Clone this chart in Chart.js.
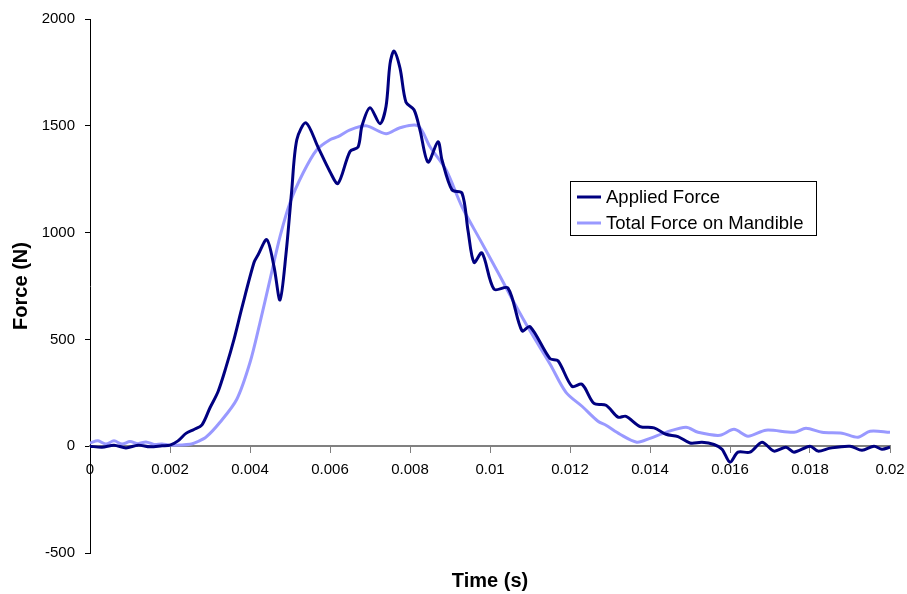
<!DOCTYPE html>
<html>
<head>
<meta charset="utf-8">
<script src="https://cdn.jsdelivr.net/npm/chart.js@4/dist/chart.umd.min.js"></script>
<style>
  body { margin: 0; background: #fff; }
</style>
</head>
<body>
<canvas id="forca" width="907" height="594"></canvas>
<script>
// tempos em segundos, forcas em N
var appliedTime = [0, 0.0003, 0.0006, 0.0009, 0.0012, 0.0015, 0.0018, 0.002, 0.0022, 0.0024, 0.0026, 0.0028,
  0.003, 0.0032, 0.0034, 0.0036, 0.0038, 0.0041, 0.0042, 0.00442, 0.0046, 0.00475, 0.0049,
  0.00504, 0.00517, 0.0054, 0.0057, 0.006, 0.0062, 0.0065, 0.0067, 0.0068, 0.007, 0.00725, 0.0074,
  0.0075, 0.0076, 0.00775, 0.0079, 0.0081, 0.00825, 0.00845, 0.0087, 0.0088, 0.00905, 0.0093, 0.00945,
  0.0096, 0.0098, 0.0101, 0.01045, 0.0108, 0.011, 0.0115, 0.0117, 0.01205, 0.0123, 0.0126, 0.0129,
  0.0132, 0.0134, 0.01375, 0.0141, 0.0144, 0.0147, 0.015, 0.0153, 0.0156, 0.0158, 0.016, 0.0162,
  0.0165, 0.0168, 0.0171, 0.0174, 0.0176, 0.018, 0.0182, 0.0185, 0.019, 0.0193, 0.0196, 0.0198, 0.02];
var appliedForce = [0, -5, 5, -8, 5, -3, 2, 5, 25, 60, 78, 100,
  180, 255, 370, 500, 650, 860, 895, 967, 841, 685, 900,
  1190, 1435, 1514, 1400, 1285, 1230, 1380, 1400, 1500, 1585, 1510, 1590,
  1790, 1850, 1770, 1610, 1575, 1480, 1330, 1425, 1340, 1200, 1185, 1010,
  860, 905, 735, 740, 540, 560, 410, 400, 280, 290, 200, 192,
  136, 140, 92, 86, 56, 45, 15, 18, 8, -14, -75, -28,
  -28, 19, -23, -5, -28, 0, -23, -9, 0, -19, 0, -14, -5];

var totalTime = [0, 0.0002, 0.0004, 0.0006, 0.0008, 0.001, 0.0012, 0.0014, 0.0016, 0.0018, 0.002, 0.0025,
  0.0027, 0.0029, 0.00325, 0.00367, 0.004, 0.00425, 0.0045, 0.00475, 0.005, 0.00533, 0.00567,
  0.006, 0.0062, 0.0065, 0.0069, 0.0074, 0.00775, 0.0082, 0.0085, 0.0089, 0.0093, 0.00975, 0.0102,
  0.0106, 0.011, 0.0115, 0.0119, 0.0123, 0.0127, 0.0129, 0.01325, 0.01367, 0.014, 0.0144, 0.0149,
  0.0152, 0.01575, 0.0161, 0.01645, 0.0169, 0.0176, 0.0179, 0.0183, 0.0188, 0.0192, 0.0195, 0.02];
var totalForce = [15, 25, 10, 25, 10, 22, 12, 20, 8, 10, 5, 9,
  22, 42, 112, 220, 392, 579, 780, 981, 1140, 1280, 1388,
  1435, 1449, 1481, 1500, 1463, 1491, 1500, 1402, 1294, 1121, 967, 813,
  673, 540, 385, 252, 187, 117, 98, 56, 19, 37, 65, 89,
  65, 51, 79, 47, 75, 65, 84, 65, 61, 42, 70, 65];

var xTickValues = [0, 0.002, 0.004, 0.006, 0.008, 0.01, 0.012, 0.014, 0.016, 0.018, 0.02];
var xTickLabels = ['0', '0.002', '0.004', '0.006', '0.008', '0.01', '0.012', '0.014', '0.016', '0.018', '0.02'];
var yTickValues = [-500, 0, 500, 1000, 1500, 2000];
var yTickLabels = ['-500', '0', '500', '1000', '1500', '2000'];

function pontos(tempo, forca) {
  var arr = [];
  for (var i = 0; i < tempo.length; i++) {
    arr.push({ x: tempo[i], y: forca[i] });
  }
  return arr;
}

// legenda desenhada na caixa, como no Excel
var legendaBox = {
  id: 'legendaBox',
  afterDraw: function (chart) {
    var ctx = chart.ctx;
    var x = 570, y = 181, w = 246, h = 54;
    ctx.save();
    ctx.fillStyle = '#fff';
    ctx.fillRect(x, y, w, h);
    ctx.strokeStyle = '#000';
    ctx.lineWidth = 1;
    ctx.strokeRect(x + 0.5, y + 0.5, w, h);
    ctx.font = '18.5px "Liberation Sans", Arial, sans-serif';
    ctx.textBaseline = 'middle';
    chart.data.datasets.forEach(function (ds, i) {
      var ly = y + 16 + i * 26;
      ctx.strokeStyle = ds.borderColor;
      ctx.lineWidth = 3;
      ctx.beginPath();
      ctx.moveTo(x + 7, ly);
      ctx.lineTo(x + 31, ly);
      ctx.stroke();
      ctx.fillStyle = '#000';
      ctx.fillText(ds.label, x + 36, ly + 1);
    });
    ctx.restore();
  }
};

new Chart(document.getElementById('forca'), {
  type: 'scatter',
  data: {
    datasets: [{
      label: 'Applied Force',
      data: pontos(appliedTime, appliedForce),
      borderColor: '#000080',
      borderWidth: 3,
      showLine: true,
      pointRadius: 0,
      tension: 0.3,
      fill: false
    }, {
      label: 'Total Force on Mandible',
      data: pontos(totalTime, totalForce),
      borderColor: '#9999FF',
      borderWidth: 3,
      showLine: true,
      pointRadius: 0,
      tension: 0.3,
      fill: false
    }]
  },
  options: {
    responsive: false,
    animation: false,
    layout: { padding: { top: 19, right: 17, left: 0, bottom: 0 } },
    plugins: {
      legend: { display: false },
      tooltip: { enabled: false },
      title: {
        display: true,
        fullSize: false,
        position: 'bottom',
        text: 'Time (s)',
        color: '#000',
        font: { family: '"Liberation Sans", Arial, sans-serif', size: 20, weight: 'bold' },
        padding: { top: 16, bottom: 1 }
      }
    },
    scales: {
      x: {
        type: 'linear',
        position: { y: 0 },
        min: 0,
        max: 0.02,
        afterBuildTicks: function (s) { s.ticks = xTickValues.map(function (v) { return { value: v }; }); },
        afterFit: function (s) { s.height = 0; s.paddingLeft = 0; s.paddingRight = 0; },
        grid: { drawOnChartArea: false, drawTicks: true, tickLength: 6, color: '#808080' },
        border: { display: true, color: '#808080', width: 2 },
        ticks: {
          color: '#000',
          padding: 9,
          maxRotation: 0,
          autoSkip: false,
          font: { family: '"Liberation Sans", Arial, sans-serif', size: 15 },
          callback: function (v, i) { return xTickLabels[i]; }
        }
      },
      y: {
        min: -500,
        max: 2000,
        afterBuildTicks: function (s) { s.ticks = yTickValues.map(function (v) { return { value: v }; }); },
        afterFit: function (s) { s.width = 90; s.paddingTop = 0; s.paddingBottom = 0; },
        grid: { drawOnChartArea: false, drawTicks: true, tickLength: 5, color: '#000' },
        border: { display: true, color: '#000', width: 1 },
        ticks: {
          color: '#000',
          padding: 10,
          font: { family: '"Liberation Sans", Arial, sans-serif', size: 15 },
          callback: function (v, i) { return yTickLabels[i]; }
        },
        title: {
          display: true,
          text: 'Force (N)',
          color: '#000',
          padding: { top: 9, bottom: 0 },
          font: { family: '"Liberation Sans", Arial, sans-serif', size: 20, weight: 'bold' }
        }
      }
    }
  },
  plugins: [legendaBox]
});
</script>
</body>
</html>
